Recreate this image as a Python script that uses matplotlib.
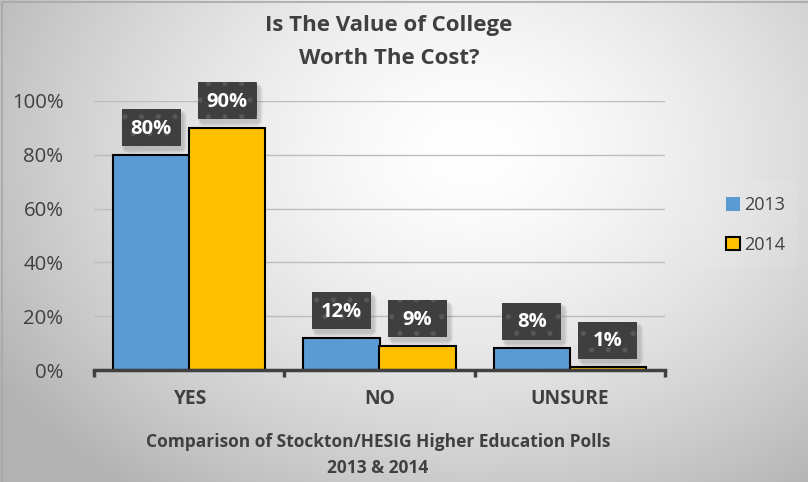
import numpy as np
import matplotlib
matplotlib.use("Agg")
import matplotlib.pyplot as plt
from matplotlib.patches import Rectangle, FancyBboxPatch

plt.rcParams['font.family'] = ['Open Sans', 'DejaVu Sans']
plt.rcParams['hatch.linewidth'] = 1.3

categories = ["YES", "NO", "UNSURE"]
series_names = ["2013", "2014"]
values_2013 = [0.80, 0.12, 0.08]
values_2014 = [0.90, 0.09, 0.01]
y_ticks = [0.0, 0.2, 0.4, 0.6, 0.8, 1.0]
y_tick_labels = ["0%", "20%", "40%", "60%", "80%", "100%"]

title_lines = ["Is The Value of College", "Worth The Cost?"]
x_title_lines = ["Comparison of Stockton/HESIG Higher Education Polls", "2013 & 2014"]

colors = ["#5B9BD5", "#FFC000"]
text_color = "#404040"

W, H = 808, 482
fig = plt.figure(figsize=(W / 100, H / 100), dpi=100)
renderer = fig.canvas.get_renderer()


def fit_size(s, width_px, weight='normal', base=12.0):
    """Font size at which string s is width_px pixels wide."""
    t = fig.text(0, 0, s, fontsize=base, fontweight=weight)
    w = t.get_window_extent(renderer).width
    t.remove()
    return base * width_px / w


# radial gradient background
bg = fig.add_axes([0, 0, 1, 1], zorder=-10)
yy, xx = np.mgrid[0:H, 0:W]
cx, cy = 470, 150
r = np.sqrt(((xx - cx) / 560.0) ** 2 + ((yy - cy) / 430.0) ** 2)
shade = np.clip(1.0 - 0.30 * r ** 1.5, 0.70, 1.0)
bg.imshow(np.dstack([shade, shade, shade]), extent=[0, W, H, 0], aspect='auto')
bg.add_patch(Rectangle((2, 2), W + 5, H + 5, fill=False, ec="#a8a8a8", lw=1.2))
bg.set_xlim(0, W)
bg.set_ylim(H, 0)
bg.axis('off')

left, right, top, bottom = 94, 665, 101, 370
ax = fig.add_axes([left / W, (H - bottom) / H, (right - left) / W, (bottom - top) / H])
ax.patch.set_alpha(0)

x = np.arange(len(categories))
bw = 0.40
bars13 = ax.bar(x - bw / 2, values_2013, bw, color=colors[0], edgecolor="black",
                linewidth=1.5, label=series_names[0], zorder=3)
bars14 = ax.bar(x + bw / 2, values_2014, bw, color=colors[1], edgecolor="black",
                linewidth=1.5, label=series_names[1], zorder=3)

ax.set_xlim(-0.5, len(categories) - 0.5)
ax.set_ylim(0, 1.0)
ax.set_yticks(y_ticks)
ax.set_yticklabels(y_tick_labels, fontsize=fit_size("100%", 52), color=text_color)
ax.yaxis.grid(True, color="#bdbdbd", linewidth=1.0, zorder=0)
ax.tick_params(axis='y', length=0, pad=22)
ax.set_xticks(x)
ax.set_xticklabels(categories, fontsize=fit_size("UNSURE", 78, 'bold'),
                   fontweight='bold', color=text_color)
ax.tick_params(axis='x', length=0, pad=14)
for b in np.arange(len(categories) + 1) - 0.5:
    ax.plot([b, b], [0, -0.026], color="#404040", lw=2.5, clip_on=False,
            solid_capstyle='butt', zorder=4)
for s in ["left", "right", "top"]:
    ax.spines[s].set_visible(False)
ax.spines["bottom"].set_color("#404040")
ax.spines["bottom"].set_linewidth(2.5)
ax.spines["bottom"].set_zorder(4)

# data labels: dark dotted boxes with a soft drop shadow, 27 px above each bar
label_size = fit_size("80%", 41, 'bold')
box_w, box_h, lift = 59, 37, 27
fig.canvas.draw()
for bars, vals in [(bars13, values_2013), (bars14, values_2014)]:
    for rect, v in zip(bars, vals):
        px, py = ax.transData.transform((rect.get_x() + rect.get_width() / 2, v))
        py += lift
        # soft shadow built from a few stacked translucent rounded boxes
        for grow in [6, 4, 2, 0]:
            fig.add_artist(FancyBboxPatch(
                (px - box_w / 2 + 3 - grow / 2, py - box_h / 2 - 4 - grow / 2),
                box_w + grow, box_h + grow, boxstyle=f"round,pad=0,rounding_size={2 + grow}",
                transform=None, fc="#5a5a5a", ec="none", alpha=0.07, zorder=5))
        fig.add_artist(Rectangle((px - box_w / 2, py - box_h / 2), box_w, box_h,
                                 transform=None, fc="#3f3f3f", ec="#575757", lw=0,
                                 hatch='.', zorder=6))
        fig.text(px / W, (py - 1) / H, f"{round(v * 100)}%", ha='center', va='center',
                 fontsize=label_size, fontweight='bold', color="white", zorder=7)

# chart title and axis title
title_size = fit_size(title_lines[0], 247, 'bold')
for line, yc in zip(title_lines, [25, 58]):
    fig.text(389 / W, 1 - yc / H, line, ha='center', va='center', fontsize=title_size,
             fontweight='bold', color=text_color)

xt_size = fit_size(x_title_lines[0], 463, 'bold')
for line, yc in zip(x_title_lines, [442, 468]):
    fig.text(378 / W, 1 - yc / H, line, ha='center', va='center', fontsize=xt_size,
             fontweight='bold', color=text_color)

# legend panel
fig.add_artist(Rectangle((691, H - 268), 107, 88, transform=None, fc="white",
                         alpha=0.07, ec="none", zorder=1))
leg = fig.legend(handles=[bars13, bars14], labels=series_names, loc='center left',
                 bbox_to_anchor=(710 / W, 1 - 225 / H), frameon=False,
                 fontsize=fit_size("2013", 41), handlelength=0.75, handleheight=0.75,
                 handletextpad=0.25, labelspacing=1.2, labelcolor=text_color)
leg.legend_handles[0].set_edgecolor("none")

fig.savefig("out.png", dpi=100)
